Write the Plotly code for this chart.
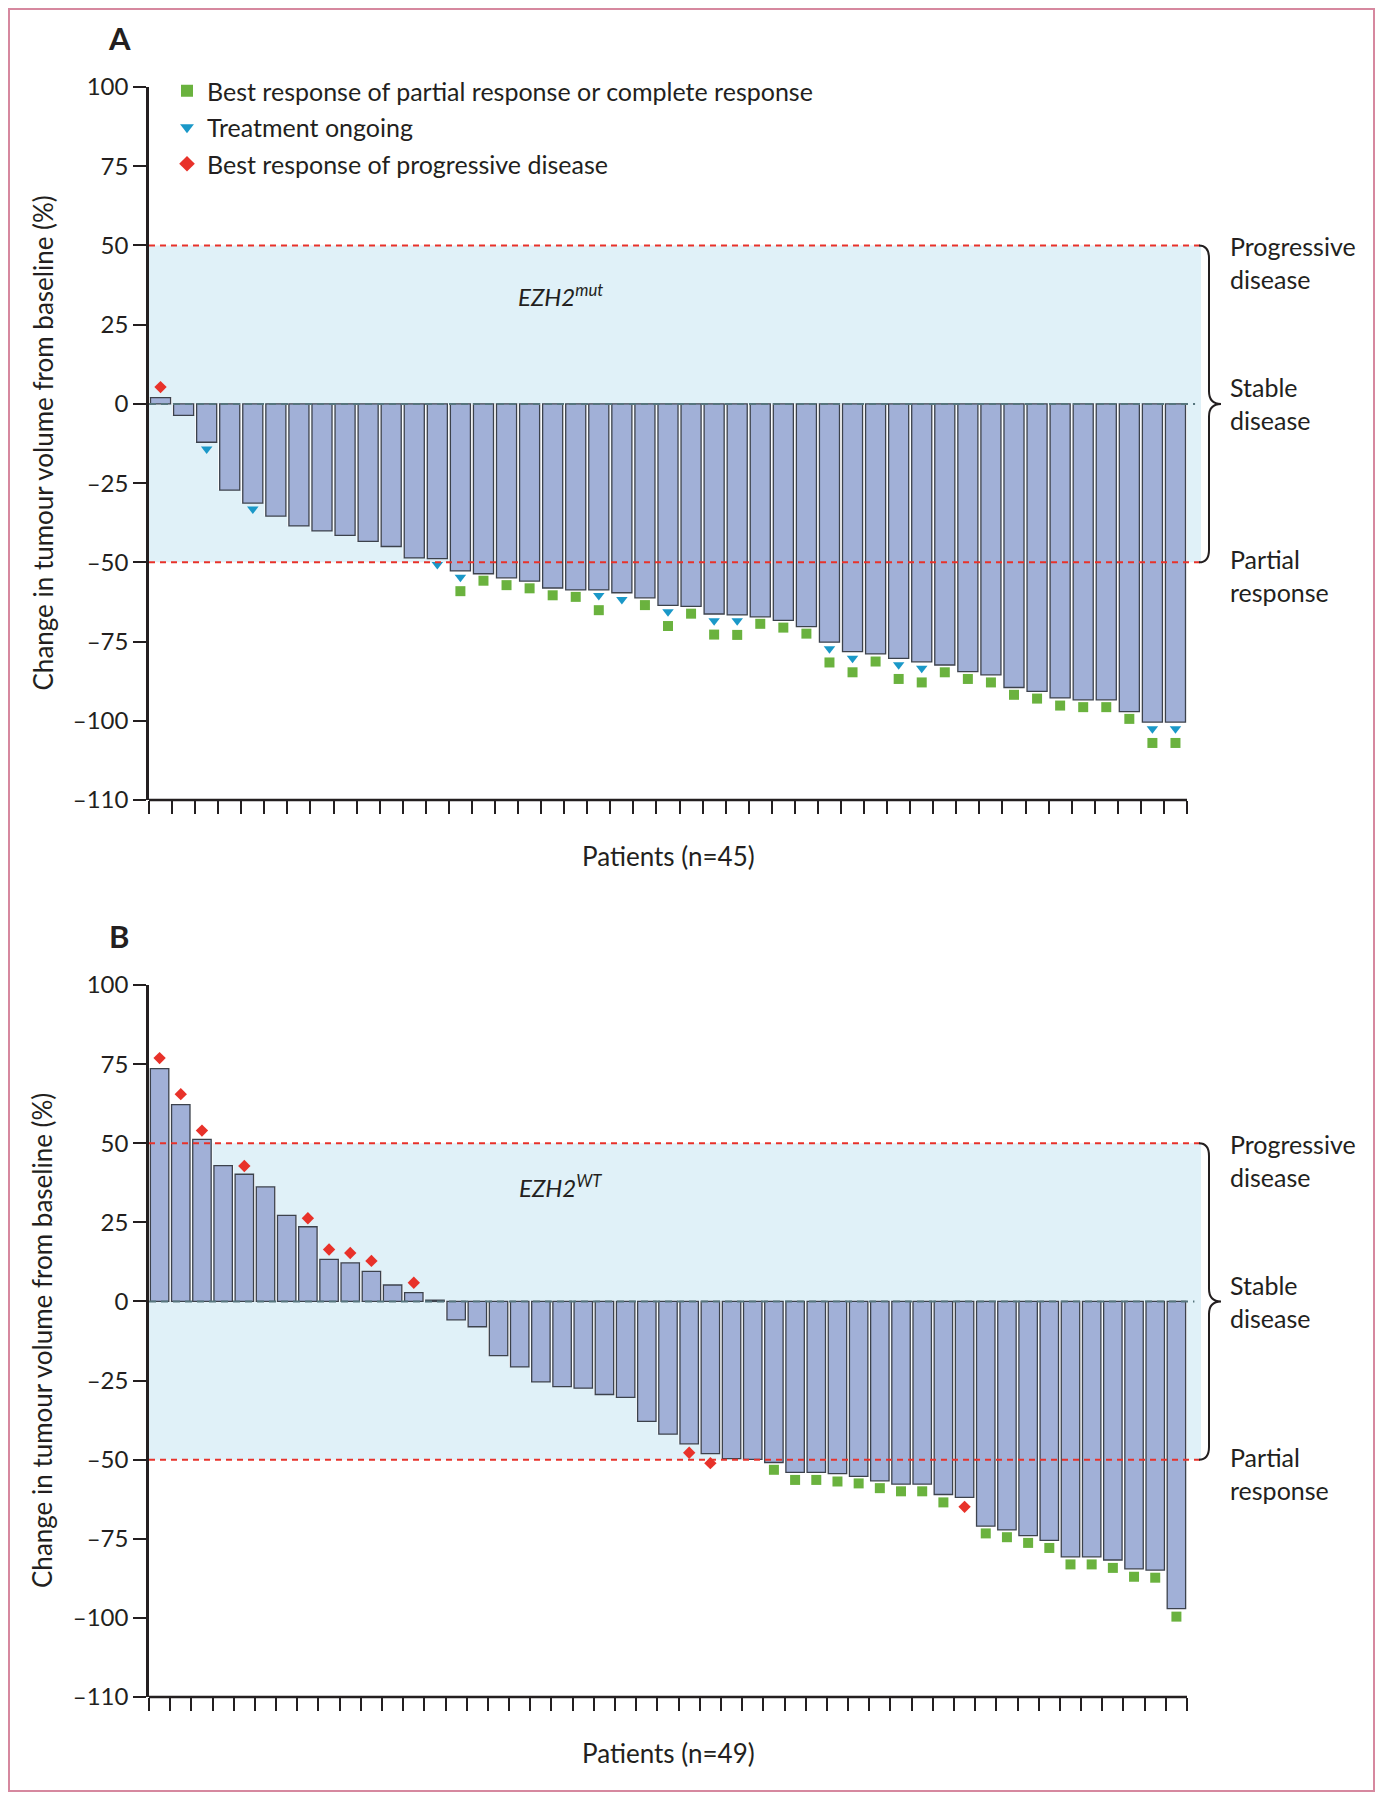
import plotly.graph_objects as go

# ---- data ----
# Panel A: EZH2 mutant, n=45 (change in tumour volume from baseline, %)
change_a = [2.0, -3.6, -12.1, -27.2, -31.3, -35.4, -38.5, -40.1, -41.5, -43.4,
            -45.0, -48.6, -48.8, -52.7, -53.6, -54.9, -55.9, -58.1, -58.7, -58.7,
            -59.6, -61.2, -63.6, -63.9, -66.3, -66.6, -67.2, -68.3, -70.3, -75.2,
            -78.2, -78.9, -80.3, -81.4, -82.4, -84.5, -85.5, -89.5, -90.7, -92.8,
            -93.4, -93.4, -97.1, -100.4, -100.4]
ongoing_a_pt = [3, 5, 13, 14, 20, 21, 23, 25, 26, 30, 31, 33, 34, 44, 45]
ongoing_a_y = [-14.2, -33.2, -50.7, -54.7, -60.5, -61.7, -65.6, -68.4, -68.4, -77.3,
               -80.3, -82.3, -83.4, -102.5, -102.5]
pr_a_pt = [14, 15, 16, 17, 18, 19, 20, 22, 23, 24, 25, 26, 27, 28, 29, 30, 31, 32,
           33, 34, 35, 36, 37, 38, 39, 40, 41, 42, 43, 44, 45]
pr_a_y = [-59.1, -55.8, -57.2, -58.2, -60.4, -60.9, -65.1, -63.5, -70.1, -66.2,
          -72.8, -72.9, -69.4, -70.6, -72.5, -81.6, -84.7, -81.3, -86.8, -87.9,
          -84.7, -86.8, -87.9, -91.8, -93.0, -95.2, -95.7, -95.7, -99.4, -107.0, -107.0]
pd_a_pt = [1]
pd_a_y = [5.3]

# Panel B: EZH2 wild type, n=49
change_b = [73.6, 62.2, 51.2, 42.9, 40.2, 36.2, 27.2, 23.6, 13.3, 12.2,
            9.5, 5.2, 2.8, 0.4, -5.8, -8.0, -17.1, -20.7, -25.4, -26.9,
            -27.4, -29.4, -30.3, -37.9, -41.9, -45.0, -48.1, -49.7, -49.9, -50.9,
            -54.0, -54.0, -54.4, -55.3, -56.7, -57.7, -57.7, -61.0, -61.9, -71.0,
            -72.2, -74.0, -75.5, -80.7, -80.7, -81.7, -84.5, -84.9, -97.1]
pr_b_pt = [30, 31, 32, 33, 34, 35, 36, 37, 38, 40, 41, 42, 43, 44, 45, 46, 47, 48, 49]
pr_b_y = [-53.2, -56.4, -56.4, -56.9, -57.5, -59.0, -60.0, -60.0, -63.5, -73.3,
          -74.5, -76.3, -77.9, -83.1, -83.1, -84.2, -87.0, -87.3, -99.6]
pd_b_pt = [1, 2, 3, 5, 8, 9, 10, 11, 13, 26, 27, 39]
pd_b_y = [76.9, 65.5, 54.0, 42.8, 26.3, 16.4, 15.3, 12.8, 5.9, -47.8, -51.1, -64.9]

# y axis is drawn with a broken bottom: the lowest tick sits one full step below -100
y_tickvals = [-125, -100, -75, -50, -25, 0, 25, 50, 75, 100]
y_ticktext = ["\u2013110", "\u2013100", "\u201375", "\u201350", "\u201325", "0", "25", "50", "75", "100"]

legend_names = ["Best response of partial response or complete response",
                "Treatment ongoing",
                "Best response of progressive disease"]

# ---- layout helpers (positions measured in page pixels; page has an 8px body margin) ----
OFF = 8
W, H = 1383 - 2 * OFF, 1800 - 2 * OFF
ML, MT = 149 - OFF, 87 - OFF
MR = W - (1201 - OFF)
MB = H - (1697 - OFF)
PW, PH = W - ML - MR, H - MT - MB
AXIS_END = 1187  # page pixel where the bar axis stops

def px_x(p):
    return (p - OFF - ML) / PW

def px_y(p):
    return (H - MB - (p - OFF)) / PH

FONT = "Lato, 'Open Sans', sans-serif"
INK = "#231f20"
BAR_FILL = "#a1b0d7"
BAR_LINE = "#3c424c"
SHADE = "#e0f1f8"
RED = "#e8322a"
GREEN = "#6ab23e"
BLUE = "#1a98c8"

fig = go.Figure()

panels = [
    dict(vals=change_a, xa="x", ya="y", pr=(pr_a_pt, pr_a_y), og=(ongoing_a_pt, ongoing_a_y),
         pd=(pd_a_pt, pd_a_y), legend=True),
    dict(vals=change_b, xa="x2", ya="y2", pr=(pr_b_pt, pr_b_y), og=([], []),
         pd=(pd_b_pt, pd_b_y), legend=False),
]

for p in panels:
    n = len(p["vals"])
    pts = list(range(1, n + 1))
    # white backing so the gaps between bars read as thin white lines
    fig.add_trace(go.Bar(x=pts, y=p["vals"], width=1.0, xaxis=p["xa"], yaxis=p["ya"],
                         marker=dict(color="white", line=dict(width=0)),
                         showlegend=False, hoverinfo="skip"))
    fig.add_trace(go.Bar(x=pts, y=p["vals"], width=0.87, xaxis=p["xa"], yaxis=p["ya"],
                         marker=dict(color=BAR_FILL, line=dict(color=BAR_LINE, width=1.3)),
                         showlegend=False))
    specs = [(p["pr"], "square", 10, GREEN, legend_names[0], "pr"),
             (p["og"], "triangle-down", 10, BLUE, legend_names[1], "og"),
             (p["pd"], "diamond", 9.5, RED, legend_names[2], "pd")]
    for (xs, ys), sym, size, col, name, grp in specs:
        fig.add_trace(go.Scatter(x=xs, y=ys, mode="markers", xaxis=p["xa"], yaxis=p["ya"],
                                 marker=dict(symbol=sym, size=size, color=col, line=dict(width=0)),
                                 name=name, legendgroup=grp, showlegend=p["legend"]))

shapes = []
annotations = []
for p, top_px, bot_px, label, ezh, ezh_y, npat in [
        (panels[0], 87, 800, "A", "<i>EZH2<sup>mut</sup></i>", 34.5, "Patients (n=45)"),
        (panels[1], 985, 1697, "B", "<i>EZH2<sup>WT</sup></i>", 36.6, "Patients (n=49)")]:
    n = len(p["vals"])
    xa, ya = p["xa"], p["ya"]
    rng_end = 0.5 + n * (1201 - 149) / (AXIS_END - 149)
    ax_key = "xaxis" if xa == "x" else "xaxis2"
    ay_key = "yaxis" if ya == "y" else "yaxis2"
    fig.layout[ax_key] = dict(range=[0.5, rng_end], anchor=ya, domain=[0, 1], showline=False,
                              showgrid=False, zeroline=False, tickmode="array",
                              tickvals=[i + 0.5 for i in range(n + 1)], showticklabels=False,
                              ticks="outside", ticklen=13, tickwidth=2, tickcolor=INK)
    fig.layout[ay_key] = dict(range=[-125, 100], anchor=xa, domain=[px_y(bot_px), px_y(top_px)],
                              showline=True, linecolor=INK, linewidth=2.5, showgrid=False,
                              zeroline=False, tickmode="array", tickvals=y_tickvals,
                              ticktext=y_ticktext, ticks="outside", ticklen=13, tickwidth=2,
                              tickcolor=INK, tickfont=dict(family=FONT, size=24, color=INK))
    # stable-disease band and threshold lines
    shapes.append(dict(type="rect", xref=xa, yref=ya, x0=0.5, x1=rng_end, y0=-50, y1=50,
                       fillcolor=SHADE, line=dict(width=0), layer="below"))
    for yv in (50, -50):
        shapes.append(dict(type="line", xref=xa, yref=ya, x0=0.5, x1=rng_end, y0=yv, y1=yv,
                           line=dict(color=RED, width=2, dash="6px,5px"), layer="above"))
    shapes.append(dict(type="line", xref=xa, yref=ya, x0=0.5, x1=n + 0.85, y0=0, y1=0,
                       line=dict(color="#56757d", width=2, dash="7px,5px"), layer="above"))
    # x axis line stops at the last bar
    shapes.append(dict(type="line", xref=xa, yref=ya + " domain", x0=0.5, x1=n + 0.5, y0=0, y1=0,
                       line=dict(color=INK, width=2.5)))
    # curly brace
    b0, b1, b2 = px_x(1199), px_x(1209), px_x(1221)
    shapes.append(dict(type="path", xref="paper", yref=ya,
                       path=(f"M {b0},50 Q {b1},50 {b1},46 L {b1},4 Q {b1},0 {b2},0 "
                             f"Q {b1},0 {b1},-4 L {b1},-46 Q {b1},-50 {b0},-50"),
                       line=dict(color=INK, width=2)))
    for txt, yv in [("Progressive<br>disease", 44.6), ("Stable<br>disease", 0),
                    ("Partial<br>response", -54.3)]:
        annotations.append(dict(text=txt, xref="paper", yref=ya, x=px_x(1228), y=yv,
                                xanchor="left", yanchor="middle", align="left", showarrow=False,
                                font=dict(family=FONT, size=25, color=INK)))
    annotations.append(dict(text=f"<b>{label}</b>", xref="paper", yref="paper",
                            x=px_x(119), y=px_y(top_px - 49), xanchor="center", yanchor="middle",
                            showarrow=False, font=dict(family=FONT, size=31, color=INK)))
    annotations.append(dict(text=ezh, xref="paper", yref=ya, x=px_x(560), y=ezh_y,
                            xanchor="center", yanchor="middle", showarrow=False,
                            font=dict(family=FONT, size=24, color=INK)))
    annotations.append(dict(text=npat, xref="paper", yref="paper", x=px_x(668),
                            y=px_y(bot_px + 56), xanchor="center", yanchor="middle",
                            showarrow=False, font=dict(family=FONT, size=26, color=INK)))
    annotations.append(dict(text="Change in tumour volume from baseline (%)", xref="paper",
                            yref="paper", x=px_x(42), y=px_y((top_px + bot_px) / 2),
                            textangle=-90, xanchor="center", yanchor="middle", showarrow=False,
                            font=dict(family=FONT, size=26, color=INK)))

# frame around the figure
shapes.append(dict(type="rect", xref="paper", yref="paper",
                   x0=-ML / PW + 1 / PW, x1=(W - ML - 1) / PW,
                   y0=-MB / PH + 1 / PH, y1=(H - MB - 1) / PH,
                   line=dict(color="#d6889f", width=2)))

fig.update_layout(
    width=W, height=H,
    margin=dict(l=ML, r=MR, t=MT, b=MB),
    paper_bgcolor="white", plot_bgcolor="rgba(0,0,0,0)",
    barmode="overlay",
    shapes=shapes, annotations=annotations,
    font=dict(family=FONT, color=INK),
    legend=dict(x=px_x(167), y=px_y(68), xanchor="left", yanchor="top",
                bgcolor="rgba(0,0,0,0)", tracegroupgap=1, itemsizing="constant",
                font=dict(family=FONT, size=25, color=INK)),
)

fig.write_html("out.html")
